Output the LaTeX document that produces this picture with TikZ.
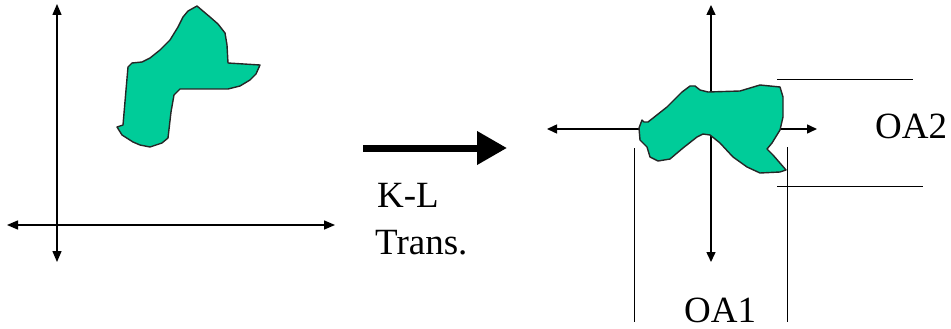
\documentclass[tikz,border=0pt]{standalone}
\usepackage{fontspec}
\setmainfont{Liberation Serif}
\newfontfamily\lblfont{Liberation Serif}
\usetikzlibrary{arrows.meta}
\definecolor{blobgreen}{RGB}{0,204,153}
\tikzset{
  axis/.style={line width=1.5pt, black, {Triangle[length=11pt,width=9pt]}-{Triangle[length=11pt,width=9pt]}},
  axisr/.style={line width=1.5pt, black, -{Triangle[length=10pt,width=9pt]}},
  blob/.style={fill=blobgreen, draw=black!85, line width=1.4pt, line join=round},
  dimline/.style={line width=1pt, black},
  bigarrow/.style={line width=7pt, -{Triangle[length=30pt,width=32pt]}},
  lbl/.style={anchor=base west, inner sep=0pt, font=\lblfont\fontsize{37}{44}\selectfont}
}
\begin{document}
\begin{tikzpicture}[x=1pt,y=-1pt]
\useasboundingbox (0,0) rectangle (951,329);
% left panel
\draw[axis] (57,4) -- (57,262);
\draw[axis] (7,225) -- (335,225);
\draw[blob] (197,6) -- (210,17) -- (218,24) -- (225,33) -- (227,45) -- (228,63) -- (260,65) -- (256,74) -- (250,80) -- (240,86) -- (228,89) -- (180,89) -- (174,95) -- (171,112) -- (168,138) -- (162,143) -- (150,147) -- (140,145) -- (133,142) -- (122,135) -- (117,127) -- (123,125) -- (126,90) -- (128,67) -- (132,63) -- (142,62) -- (150,58) -- (160,50) -- (170,40) -- (178,27) -- (183,17) -- (188,11) -- cycle;
% transformation arrow
\coordinate (a1) at (363,148);
\coordinate (a2) at (507,148);
\draw[bigarrow] (a1) -- (a2);
\node[lbl] (kl) at (377,207) {K-L};
\node[lbl] (tr) at (375,254) {Trans.};
% right panel
\draw[axisr] (711,129) -- (711,5);
\draw[axisr] (711,129) -- (711,262);
\draw[axisr] (711,129) -- (547,129);
\draw[axisr] (711,129) -- (817,129);
\draw[blob] (639,128) -- (642,120) -- (644,122) -- (648,122) -- (667,107) -- (682,92) -- (690,86) -- (695,86) -- (700,90) -- (708,92) -- (740,91) -- (760,85) -- (780,87) -- (783,97) -- (783,117) -- (780,130) -- (772,143) -- (767,149) -- (773,155) -- (786,170) -- (780,172) -- (760,173) -- (747,167) -- (733,157) -- (720,143) -- (710,135) -- (703,134) -- (697,137) -- (683,148) -- (670,159) -- (658,161) -- (650,157) -- (647,147) -- (640,140) -- cycle;
\draw[dimline] (777,80) -- (913,80);
\draw[dimline] (777,186) -- (923,186);
\draw[dimline] (634,148) -- (634,322);
\draw[dimline] (787,147) -- (787,322);
\node[lbl] (oa1) at (684,322) {OA1};
\node[lbl] (oa2) at (875,138) {OA2};
\end{tikzpicture}
\end{document}
